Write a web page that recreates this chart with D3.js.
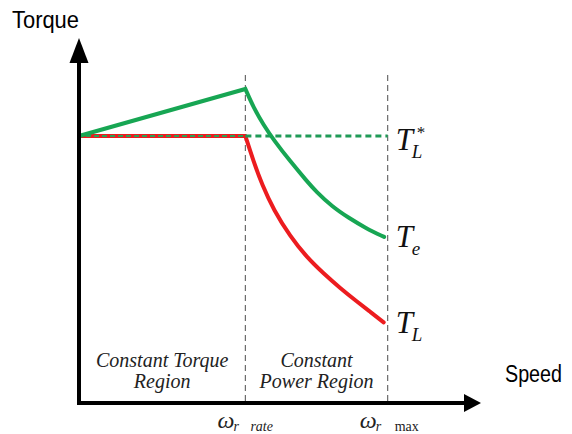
<!DOCTYPE html>
<html>
<head>
<meta charset="utf-8">
<script src="https://cdn.jsdelivr.net/npm/d3@7"></script>
<style>
  html, body { margin: 0; padding: 0; background: #fff; }
  svg { display: block; }
</style>
</head>
<body>
<svg id="chart" width="572" height="434"></svg>
<script>
// Speed is expressed relative to rated speed (ω_rate = 1), torque relative to T_L*.
const speedMarks = [1, 1.855];            // ω_r rate, ω_r max
const speedMarkSubs = ["rate", "max"];
const regionNames = [["Constant Torque", "Region"], ["Constant", "Power Region"]];

// Electromagnetic torque T_e
const teSpeed  = [0, 1.000, 1.050, 1.110, 1.170, 1.271, 1.372, 1.422, 1.522, 1.622, 1.723, 1.834];
const teTorque = [1, 1.176, 1.105, 1.041, 0.985, 0.904, 0.829, 0.794, 0.735, 0.693, 0.655, 0.622];

// Load torque T_L
const tlSpeed  = [0, 1.000, 1.050, 1.100, 1.170, 1.270, 1.370, 1.470, 1.570, 1.670, 1.750, 1.831];
const tlTorque = [1, 1.000, 0.903, 0.818, 0.723, 0.623, 0.545, 0.485, 0.430, 0.380, 0.342, 0.302];

// Load torque reference T_L*
const refSpeed  = [1, 1.855];
const refTorque = [1, 1];

const svg = d3.select("#chart");

const x = d3.scaleLinear().domain([0, 2.416]).range([79, 481]);
const y = d3.scaleLinear().domain([0, 1.367]).range([403, 38]);

const green = "#17a653";
const red = "#ec1c1f";

// Region boundaries
svg.selectAll("line.boundary")
  .data(speedMarks)
  .join("line")
  .attr("class", "boundary")
  .attr("x1", d => x(d)).attr("x2", d => x(d))
  .attr("y1", 75).attr("y2", y(0))
  .attr("stroke", "#6b6b6b")
  .attr("stroke-width", 1.2)
  .attr("stroke-dasharray", "6,4");

const line = d3.line().x(d => x(d[0])).y(d => y(d[1]));
// smooth B-spline through the field-weakening samples
const curved = d3.line().x(d => x(d[0])).y(d => y(d[1])).curve(d3.curveBasis);

const tePts = teSpeed.map((s, i) => [s, teTorque[i]]);
const tlPts = tlSpeed.map((s, i) => [s, tlTorque[i]]);
const refPts = refSpeed.map((s, i) => [s, refTorque[i]]);

// T_L: flat part then decaying part
svg.append("path")
  .attr("d", line(tlPts.slice(0, 2)) + curved(tlPts.slice(1)).replace(/^M/, "L"))
  .attr("fill", "none").attr("stroke", red).attr("stroke-width", 4)
  .attr("stroke-linejoin", "round").attr("stroke-linecap", "round");

// T_L* dashed reference, drawn along the whole constant-torque span too
svg.append("path")
  .attr("d", line([[x.invert(86), 1], [1, 1]]))
  .attr("fill", "none").attr("stroke", "#2e9e55").attr("stroke-width", 2)
  .attr("stroke-dasharray", "5,3");
svg.append("path")
  .attr("d", line(refPts))
  .attr("fill", "none").attr("stroke", "#1f9a57").attr("stroke-width", 3)
  .attr("stroke-dasharray", "6,4");

// T_e
svg.append("path")
  .attr("d", line(tePts.slice(0, 2)) + curved(tePts.slice(1)).replace(/^M/, "L"))
  .attr("fill", "none").attr("stroke", green).attr("stroke-width", 4)
  .attr("stroke-linejoin", "miter").attr("stroke-linecap", "round");

// Axes with arrow heads
const x0 = x(0), y0 = y(0);
svg.append("line")
  .attr("x1", x0).attr("x2", x0).attr("y1", y0 + 2).attr("y2", 60)
  .attr("stroke", "#000").attr("stroke-width", 4);
svg.append("path")
  .attr("d", `M${x0},${y(1.367)} L${x0 - 9.5},${63} L${x0 + 9.5},${63} Z`)
  .attr("fill", "#000");
svg.append("line")
  .attr("x1", x0 - 2).attr("x2", 466).attr("y1", y0).attr("y2", y0)
  .attr("stroke", "#000").attr("stroke-width", 4);
svg.append("path")
  .attr("d", `M${x(2.416)},${y0} L${464},${y0 - 9} L${464},${y0 + 9} Z`)
  .attr("fill", "#000");

// Axis titles
svg.append("text")
  .attr("x", 12).attr("y", 28)
  .attr("font-family", "Liberation Sans, Arial, sans-serif")
  .attr("font-size", 24)
  .attr("textLength", 67).attr("lengthAdjust", "spacingAndGlyphs")
  .text("Torque");
svg.append("text")
  .attr("x", 505).attr("y", 382)
  .attr("font-family", "Liberation Sans, Arial, sans-serif")
  .attr("font-size", 23)
  .attr("textLength", 57).attr("lengthAdjust", "spacingAndGlyphs")
  .text("Speed");

const serif = "Liberation Serif, Times New Roman, serif";

// Region names centred between boundaries
const regionCentres = [(x(0) + x(speedMarks[0])) / 2, (x(speedMarks[0]) + x(speedMarks[1])) / 2];
regionNames.forEach((lines, i) => {
  lines.forEach((t, j) => {
    svg.append("text")
      .attr("x", regionCentres[i]).attr("y", 367 + j * 21)
      .attr("text-anchor", "middle")
      .attr("font-family", serif).attr("font-style", "italic")
      .attr("font-size", 20).attr("fill", "#222")
      .text(t);
  });
});

// Speed marks: ω_r with subscripts
speedMarks.forEach((s, i) => {
  const g = svg.append("g").attr("transform", `translate(${x(s) - 28},428)`);
  g.append("text").attr("font-family", serif).attr("font-style", "italic")
    .attr("font-size", 24).attr("fill", "#222").text("ω");
  g.append("text").attr("x", 16).attr("y", 3).attr("font-family", serif).attr("font-style", "italic")
    .attr("font-size", 14).attr("fill", "#222").text("r");
  g.append("text").attr("x", i === 0 ? 33 : 35).attr("y", 3).attr("font-family", serif)
    .attr("font-style", i === 0 ? "italic" : "normal")
    .attr("font-size", 14).attr("fill", "#222").text(speedMarkSubs[i]);
});

// Curve labels at ω_r max
function tLabel(yBase, sub, star) {
  const g = svg.append("g").attr("transform", `translate(${x(speedMarks[1]) + 8},${yBase})`);
  g.append("text").attr("font-family", serif).attr("font-style", "italic")
    .attr("font-size", 31).attr("fill", "#111").text("T");
  g.append("text").attr("x", 16).attr("y", 8).attr("font-family", serif).attr("font-style", "italic")
    .attr("font-size", 19).attr("fill", "#111").text(sub);
  if (star) {
    g.append("text").attr("x", 21).attr("y", -12).attr("font-family", serif)
      .attr("font-size", 17).attr("fill", "#111").text("*");
  }
}
tLabel(y(refTorque[1]) + 14, "L", true);
tLabel(y(teTorque[teTorque.length - 1]) + 10, "e", false);
tLabel(y(tlTorque[tlTorque.length - 1]) + 11, "L", false);
</script>
</body>
</html>
